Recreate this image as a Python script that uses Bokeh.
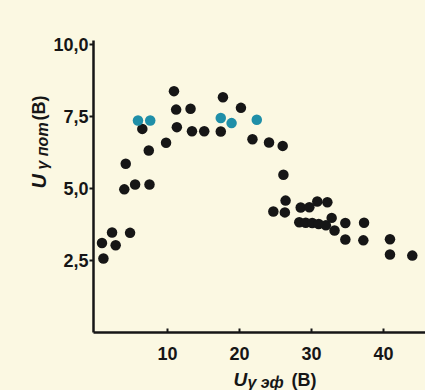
import math
from bokeh.plotting import figure
from bokeh.models import Range1d, FixedTicker, Label, CustomJSTickFormatter, GlobalInlineStyleSheet
from bokeh.embed import file_html
from bokeh.resources import INLINE

# ---- data ----
x_black = [1.1, 0.9, 2.8, 2.3, 4.8, 4.0, 5.5, 7.5, 4.2, 7.4,
           9.8, 6.5, 11.3, 11.2, 10.9, 13.2, 13.4, 15.1, 17.4, 17.7,
           20.2, 21.8, 24.1, 26.0, 26.1, 26.4, 24.7, 26.3, 28.5, 29.7,
           30.8, 32.2, 28.3, 29.2, 30.1, 31.0, 32.0, 32.8, 33.2, 34.7,
           37.3, 34.7, 37.2, 40.9, 40.9, 44.0]
y_black = [2.57, 3.11, 3.03, 3.47, 3.46, 4.97, 5.14, 5.14, 5.86, 6.32,
           6.59, 7.07, 7.13, 7.74, 8.38, 7.77, 6.99, 6.99, 6.98, 8.17,
           7.80, 6.71, 6.60, 6.48, 5.48, 4.58, 4.20, 4.17, 4.34, 4.35,
           4.55, 4.52, 3.83, 3.81, 3.80, 3.77, 3.72, 3.98, 3.54, 3.80,
           3.81, 3.23, 3.20, 3.24, 2.71, 2.67]
x_cyan = [5.9, 7.6, 17.4, 18.9, 22.4]
y_cyan = [7.36, 7.36, 7.45, 7.27, 7.39]
x_ticks = [10, 20, 30, 40]
y_ticks = [2.5, 5.0, 7.5, 10.0]

BG = "#fbf8e2"
INK = "#161616"
CYAN = "#1f8fa8"
FONT = "Liberation Sans"
W, H = 425, 390

# page pixel -> data helpers (layout only)
def dx(px):
    return (px - 95) / 7.2

def dy(py):
    return (332 - py) / 28.8

X0, X1 = -0.28, dx(W)
Y0, Y1 = 0.0, 10.14

p = figure(frame_width=W, frame_height=H,
           min_border=0,
           x_range=Range1d(dx(0), dx(W)), y_range=Range1d(dy(H), dy(0)),
           output_backend="svg", toolbar_location=None,
           background_fill_color=BG, border_fill_color=BG, outline_line_color=None)
p.stylesheets = [GlobalInlineStyleSheet(css="body{background-color:%s;}" % BG)]
p.xgrid.visible = False
p.ygrid.visible = False

for ax in (p.xaxis[0], p.yaxis[0]):
    ax.axis_line_width = 2.5
    ax.axis_line_color = INK
    ax.major_tick_line_color = INK
    ax.major_tick_line_width = 2
    ax.minor_tick_line_color = None
    ax.major_label_text_font = FONT
    ax.major_label_text_font_style = "bold"
    ax.major_label_text_color = INK

p.xaxis.fixed_location = Y0
p.xaxis.bounds = (X0, X1)
p.xaxis.ticker = FixedTicker(ticks=x_ticks)
p.xaxis.major_tick_in = 4
p.xaxis.major_tick_out = 0
p.xaxis.major_label_standoff = 14
p.xaxis.major_label_text_font_size = "18px"

p.yaxis.fixed_location = X0
p.yaxis.bounds = (Y0, Y1)
p.yaxis.ticker = FixedTicker(ticks=y_ticks)
p.yaxis.formatter = CustomJSTickFormatter(code="return tick.toFixed(1).replace('.', ',');")
p.yaxis.major_tick_in = 0
p.yaxis.major_tick_out = 4
p.yaxis.major_label_standoff = 1
p.yaxis.major_label_text_font_size = "18px"

p.scatter(x_black, y_black, size=10.5, fill_color=INK, line_color=None)
p.scatter(x_cyan, y_cyan, size=10.5, fill_color=CYAN, line_color=None)

def lab(text, px, py, size, style, angle=0.0):
    p.add_layout(Label(x=dx(px), y=dy(py), text=text, angle=angle,
                       text_font=FONT, text_font_size=size, text_font_style=style,
                       text_color=INK, text_align="left", text_baseline="alphabetic"))

# x axis title: U_{γ эф} (В)
lab("U", 233, 379, "19px", "bold italic")
lab("γ эф", 247, 382, "16px", "bold italic")
lab("(В)", 291, 379, "18px", "bold")

# y axis title: U_{γ пот} (В)
a = math.pi / 2
lab("U", 38, 188, "20px", "bold italic", a)
lab("γ пот", 42, 169, "16px", "bold italic", a)
lab("(В)", 38, 120, "18px", "bold", a)

open("out.html", "w").write(file_html(p, INLINE))
